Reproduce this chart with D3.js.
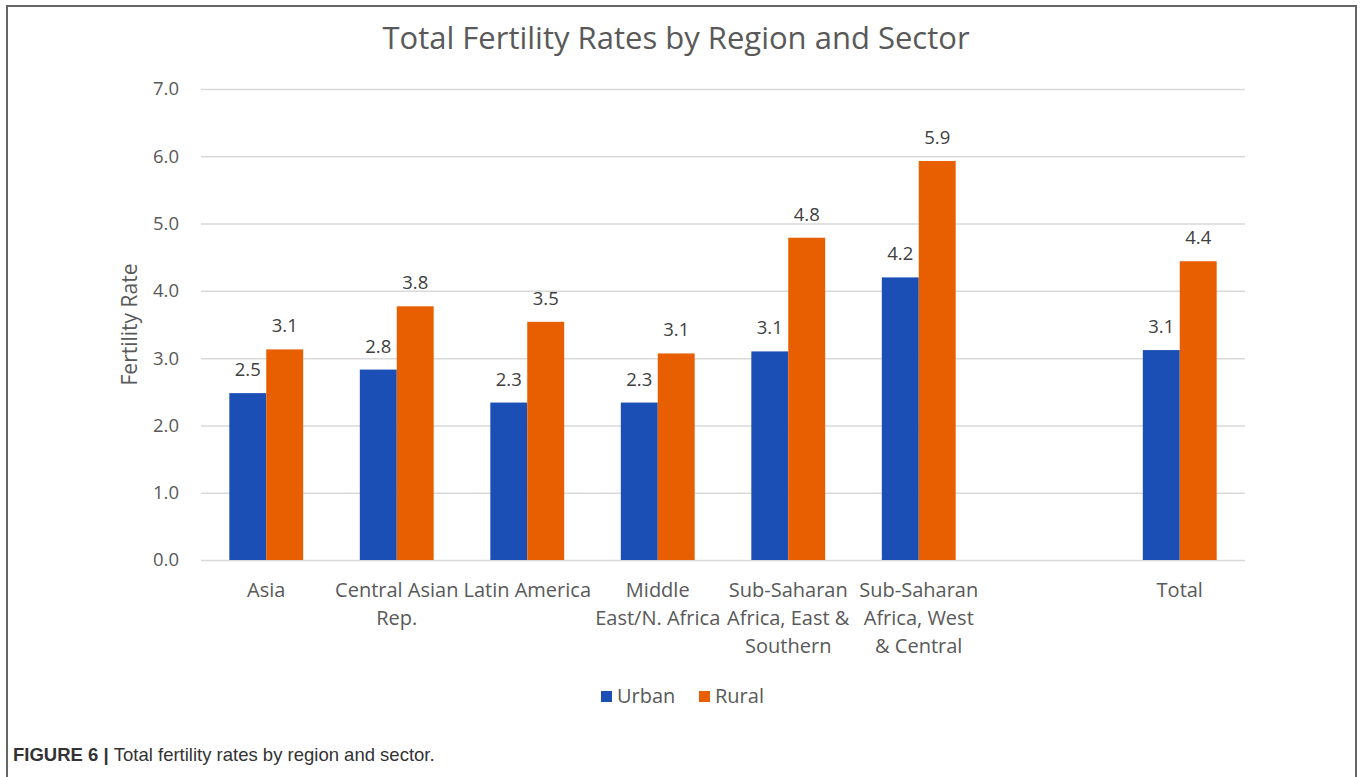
<!DOCTYPE html>
<html>
<head>
<meta charset="utf-8">
<script src="https://cdn.jsdelivr.net/npm/d3@7"></script>
<style>
  body { margin: 0; background: #fff; }
  svg { display: block; }
</style>
</head>
<body>
<div id="chart"></div>
<script>
// chart values
const categories = [
  ["Asia"],
  ["Central Asian", "Rep."],
  ["Latin America"],
  ["Middle", "East/N. Africa"],
  ["Sub-Saharan", "Africa, East &", "Southern"],
  ["Sub-Saharan", "Africa, West", "& Central"],
  [""],
  ["Total"]
];
const urban = [2.48, 2.83, 2.34, 2.34, 3.10, 4.20, null, 3.12];
const rural = [3.13, 3.77, 3.54, 3.07, 4.79, 5.93, null, 4.44];
const seriesNames = ["Urban", "Rural"];
const yTicks = [0, 1, 2, 3, 4, 5, 6, 7];

const W = 1363, H = 777;
const plot = { left: 201, right: 1245, top: 89, bottom: 560 };
const colors = { Urban: "#1c4fb5", Rural: "#e85f02" };
const font = "'Open Sans', 'Noto Sans', sans-serif";

const svg = d3.select("#chart").append("svg")
  .attr("width", W).attr("height", H);

/* frame round the figure */
svg.append("rect")
  .attr("x", 7).attr("y", 6)
  .attr("width", 1349).attr("height", 800)
  .attr("fill", "none")
  .attr("stroke", "#666")
  .attr("stroke-width", 2);

/* scales */
const keys = categories.map((c, i) => i);
const x = d3.scaleBand()
  .domain(keys)
  .range([plot.left, plot.right])
  .paddingInner(0.434)
  .paddingOuter(0.217);
const x1 = d3.scaleBand()
  .domain(seriesNames)
  .range([0, x.bandwidth()]);
const y = d3.scaleLinear()
  .domain([0, 7])
  .range([plot.bottom, plot.top]);

/* gridlines and y axis */
const yAxis = d3.axisLeft(y)
  .tickValues(yTicks)
  .tickSize(-(plot.right - plot.left))
  .tickPadding(22)
  .tickFormat(d3.format(".1f"));
const yG = svg.append("g")
  .attr("transform", "translate(" + plot.left + ",0)")
  .call(yAxis);
yG.select(".domain").remove();
yG.selectAll(".tick line")
  .attr("stroke", "#d9d9d9")
  .attr("stroke-width", 1.5);
yG.selectAll(".tick text")
  .attr("fill", "#595959")
  .style("font-family", font)
  .style("font-size", "18.5px");

/* bars */
const rows = keys.map(i => ({ i: i, Urban: urban[i], Rural: rural[i] }));
const groups = svg.append("g").selectAll("g")
  .data(rows).enter()
  .append("g")
  .attr("transform", d => "translate(" + x(d.i) + ",0)");
const bars = groups.selectAll("g")
  .data(d => seriesNames.map(s => ({ s: s, v: d[s] })).filter(e => e.v != null))
  .enter().append("g");
bars.append("rect")
  .attr("x", d => x1(d.s))
  .attr("width", x1.bandwidth())
  .attr("y", d => y(d.v))
  .attr("height", d => y(0) - y(d.v))
  .attr("fill", d => colors[d.s]);
bars.append("text")
  .attr("x", d => x1(d.s) + x1.bandwidth() / 2)
  .attr("y", d => y(d.v) - 17)
  .attr("text-anchor", "middle")
  .attr("fill", "#404040")
  .style("font-family", font)
  .style("font-size", "18.5px")
  .text(d => d3.format(".1f")(d.v));

/* category labels */
const xl = svg.append("g").selectAll("text")
  .data(keys).enter()
  .append("text")
  .attr("x", i => x(i) + x.bandwidth() / 2)
  .attr("y", 597)
  .attr("text-anchor", "middle")
  .attr("fill", "#595959")
  .style("font-family", font)
  .style("font-size", "20px");
xl.selectAll("tspan")
  .data(i => categories[i]).enter()
  .append("tspan")
  .attr("x", function() { return d3.select(this.parentNode).attr("x"); })
  .attr("dy", (d, j) => j === 0 ? 0 : 28)
  .text(d => d);

/* axis title */
svg.append("text")
  .attr("transform", "translate(137," + ((plot.top + plot.bottom) / 2) + ") rotate(-90)")
  .attr("text-anchor", "middle")
  .attr("fill", "#595959")
  .style("font-family", font)
  .style("font-size", "21px")
  .text("Fertility Rate");

/* title */
svg.append("text")
  .attr("x", 676).attr("y", 49)
  .attr("text-anchor", "middle")
  .attr("fill", "#595959")
  .style("font-family", font)
  .style("font-size", "31px")
  .text("Total Fertility Rates by Region and Sector");

/* legend */
const legend = svg.append("g").selectAll("g")
  .data(seriesNames).enter()
  .append("g")
  .attr("transform", (d, i) => "translate(" + (601 + i * 98) + ",691)");
legend.append("rect")
  .attr("width", 11).attr("height", 11)
  .attr("fill", d => colors[d]);
legend.append("text")
  .attr("x", 16).attr("y", 12)
  .attr("fill", "#595959")
  .style("font-family", font)
  .style("font-size", "20px")
  .text(d => d);

/* caption */
const cap = svg.append("text")
  .attr("x", 13).attr("y", 761)
  .attr("fill", "#333")
  .style("font-family", "'Liberation Sans Narrow', 'Liberation Sans', Arial, sans-serif")
  .style("font-size", "18.5px");
cap.append("tspan").style("font-weight", "bold").text("FIGURE 6 | ");
cap.append("tspan").text("Total fertility rates by region and sector.");
</script>
</body>
</html>
